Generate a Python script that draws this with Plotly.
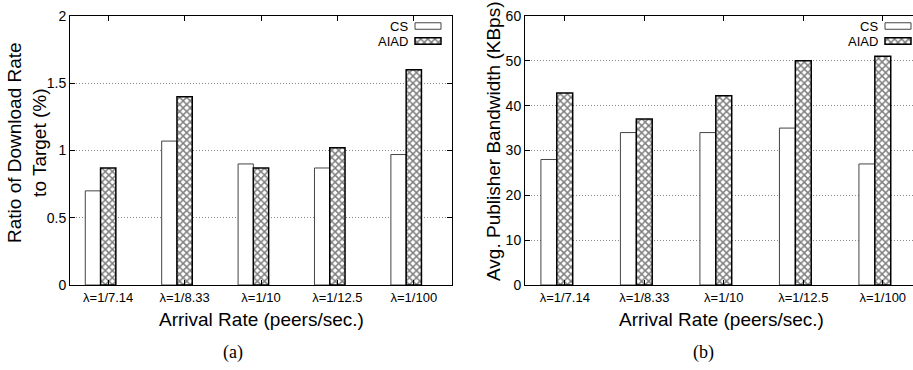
import plotly.graph_objects as go

# ---- data ----
categories = ["λ=1/7.14", "λ=1/8.33", "λ=1/10", "λ=1/12.5", "λ=1/100"]
series_names = ["CS", "AIAD"]
ratio_cs = [0.70, 1.07, 0.90, 0.87, 0.97]
ratio_aiad = [0.87, 1.40, 0.87, 1.02, 1.60]
bw_cs = [28, 34, 34, 35, 27]
bw_aiad = [42.8, 37, 42.2, 50, 51]
ratio_ticks = [0, 0.5, 1, 1.5, 2]
bw_ticks = [0, 10, 20, 30, 40, 50, 60]

W, H = 913, 370
FONT = "Liberation Sans"

fig = go.Figure()

cs_style = dict(marker=dict(color="white", line=dict(color="#444", width=1)))
aiad_style = dict(marker=dict(color="white",
                              pattern=dict(shape="x", fgcolor="black", bgcolor="white",
                                           size=5, solidity=0.5),
                              line=dict(color="black", width=1.5)))

for vals_cs, vals_aiad, xa, ya in [(ratio_cs, ratio_aiad, "x", "y"), (bw_cs, bw_aiad, "x2", "y2")]:
    fig.add_trace(go.Bar(x=categories, y=vals_cs, width=0.2, offset=-0.3, name=series_names[0],
                         xaxis=xa, yaxis=ya, showlegend=False, **cs_style))
    fig.add_trace(go.Bar(x=categories, y=vals_aiad, width=0.2, offset=-0.1, name=series_names[1],
                         xaxis=xa, yaxis=ya, showlegend=False, **aiad_style))

# ---- custom legend keys (text left, swatch right) on a pixel overlay axis ----
legend_right = [410, 880]      # right edge of legend text per panel (px)
swatch_left = [415, 885]
swatch_w = 26
legend_rows = [26, 41]         # y centres (px)
for i, (name, style) in enumerate([(series_names[0], cs_style), (series_names[1], aiad_style)]):
    fig.add_trace(go.Bar(orientation="h", y=[legend_rows[i]] * 2, x=[swatch_w] * 2,
                         base=swatch_left, width=6.5, xaxis="x3", yaxis="y3",
                         showlegend=False, hoverinfo="skip", **style))
    for p in range(2):
        fig.add_annotation(x=legend_right[p], y=legend_rows[i], xref="x3", yref="y3",
                           text=name, showarrow=False, xanchor="right", yanchor="middle",
                           font=dict(family=FONT, size=13, color="black"))

ydom = [(H - 285) / H, (H - 16) / H]
axis_common = dict(showline=True, linecolor="black", linewidth=1, ticks="inside",
                   ticklen=5, tickcolor="black", mirror="ticks", automargin=False,
                   tickfont=dict(family=FONT, size=13, color="black"))
yaxis_common = dict(axis_common, showgrid=True, gridcolor="#888", griddash="1px,2px",
                    gridwidth=1, zeroline=False, tickfont=dict(family=FONT, size=14, color="black"))

fig.update_layout(
    width=W, height=H, margin=dict(l=0, r=0, t=0, b=0, pad=0, autoexpand=False),
    paper_bgcolor="white", plot_bgcolor="rgba(0,0,0,0)", barmode="overlay",
    xaxis=dict(axis_common, domain=[70 / W, 452 / W], anchor="y", range=[-0.5, 4.5],
               type="category", showgrid=False),
    yaxis=dict(yaxis_common, domain=ydom, anchor="x", range=[0, 2],
               tickvals=ratio_ticks, ticktext=[str(t) for t in ratio_ticks]),
    xaxis2=dict(axis_common, domain=[525 / W, 1.0], anchor="y2", range=[-0.5, 4.38],
                type="category", showgrid=False),
    yaxis2=dict(yaxis_common, domain=ydom, anchor="x2", range=[0, 60], mirror=False,
                tickvals=bw_ticks),
    xaxis3=dict(domain=[0, 1], range=[0, W], visible=False, anchor="y3", fixedrange=True,
                automargin=False),
    yaxis3=dict(domain=[0, 1], range=[H, 0], visible=False, anchor="x3", fixedrange=True,
                automargin=False),
    showlegend=False,
)

# axis titles
ann = dict(xref="paper", yref="paper", showarrow=False, xanchor="center", yanchor="middle")
fig.add_annotation(x=27 / W, y=1 - 143 / H, textangle=-90,
                   text="Ratio of Download Rate<br>to Target (%)",
                   font=dict(family=FONT, size=19, color="black"), **ann)
fig.add_annotation(x=493 / W, y=1 - 141 / H, textangle=-90,
                   text="Avg. Publisher Bandwidth (KBps)",
                   font=dict(family=FONT, size=19, color="black"), **ann)
for cx in [261, 721]:
    fig.add_annotation(x=cx / W, y=1 - 319 / H, text="Arrival Rate (peers/sec.)",
                       font=dict(family=FONT, size=19, color="black"), **ann)
for cx, lab in [(233, "(a)"), (703, "(b)")]:
    fig.add_annotation(x=cx / W, y=1 - 352 / H, text=lab,
                       font=dict(family="Liberation Serif", size=18, color="black"), **ann)

fig.write_html("out.html")
